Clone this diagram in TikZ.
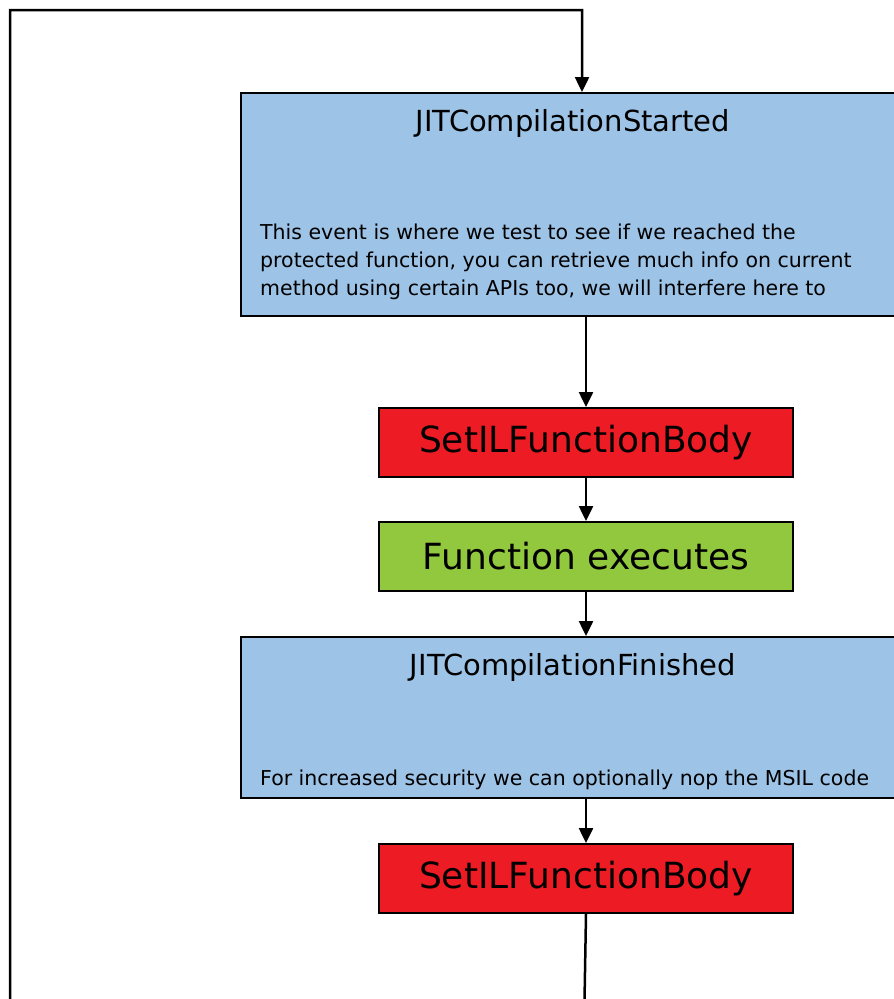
\documentclass[tikz,border=0pt]{standalone}
\usepackage{fontspec}
\setmainfont{DejaVu Sans}
\usetikzlibrary{arrows.meta}
\definecolor{evblue}{RGB}{157,195,230}
\definecolor{hookred}{RGB}{237,28,36}
\definecolor{runsgreen}{RGB}{146,200,62}
\tikzset{
  x=1pt, y=1pt,
  box/.style={draw=black, line width=2pt, rectangle, inner sep=0pt, anchor=north west},
  evbox/.style={box, fill=evblue, minimum width=666pt},
  actbox/.style={box, minimum width=414pt, minimum height=69pt, font=\fontsize{36}{42}\selectfont},
  evtitle/.style={anchor=base, font=\fontsize{29}{34}\selectfont},
  evbody/.style={anchor=base west, inner sep=0pt, font=\fontsize{20.5}{28.5}\selectfont},
  flow/.style={draw=black, line width=2.5pt, -{Triangle[length=15pt,width=14pt]}}
}
\begin{document}
\begin{tikzpicture}
\clip (0,0) rectangle (894,-999);
\fill[white] (0,0) rectangle (894,-999);

% event boxes
\node[evbox, minimum height=223pt] (started) at (240,-92) {};
\node[evtitle] (startedT) at (573,-131) {JITCompilationStarted};
\node[evbody] (startedB1) at (260,-239) {This event is where we test to see if we reached the};
\node[evbody] (startedB2) at (260,-267) {protected function, you can retrieve much info on current};
\node[evbody] (startedB3) at (260,-295) {method using certain APIs too, we will interfere here to};

\node[actbox, fill=hookred] (set1) at (378,-407) {SetILFunctionBody};
\node[actbox, fill=runsgreen] (exec) at (378,-521) {Function executes};

\node[evbox, minimum height=161pt] (finished) at (240,-636) {};
\node[evtitle] (finishedT) at (573,-675) {JITCompilationFinished};
\node[evbody] (finishedB) at (260,-785) {For increased security we can optionally nop the MSIL code};

\node[actbox, fill=hookred] (set2) at (378,-843) {SetILFunctionBody};

% loop corners
\coordinate (bot) at (584,-1030);
\coordinate (botL) at (10,-1030);
\coordinate (topL) at (10,-10);
\coordinate (topR) at (582,-10);

% connectors
\draw[flow] (started.south -| set1.north) -- (set1.north);
\draw[flow] (set1.south) -- (exec.north);
\draw[flow] (exec.south) -- (finished.north -| exec.south);
\draw[flow] (finished.south -| set2.north) -- (set2.north);
\draw[flow] (set2.south) -- (bot) -- (botL) -- (topL) -- (topR) -- (topR |- started.north);
\end{tikzpicture}
\end{document}
